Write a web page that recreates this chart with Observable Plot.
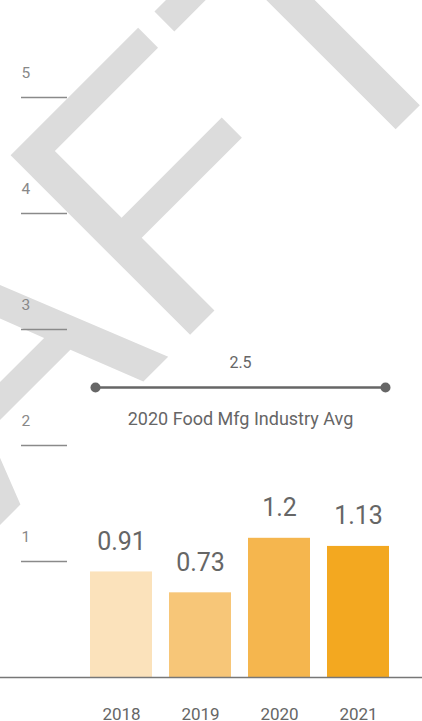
<!DOCTYPE html>
<html>
<head>
<meta charset="utf-8">
<script src="https://cdn.jsdelivr.net/npm/d3@7"></script>
<script src="https://cdn.jsdelivr.net/npm/@observablehq/plot@0.6"></script>
<style>
  html, body { margin: 0; padding: 0; background: #fff; overflow: hidden; }
  #chart svg { display: block; }
</style>
</head>
<body>
<div id="chart"></div>
<script>
const years = ["2018", "2019", "2020", "2021"];
const values = [0.91, 0.73, 1.2, 1.13];
const valueLabels = ["0.91", "0.73", "1.2", "1.13"];
const barColors = ["#FBE2BB", "#F7C678", "#F5B64E", "#F3A820"];
const yTicks = [1, 2, 3, 4, 5];
const industryAvg = [2.5];
const industryAvgLabel = ["2.5"];
const industryLabel = ["2020 Food Mfg Industry Avg"];
const watermark = ["DRAFT"];

const data = years.map((year, i) => ({year, value: values[i], label: valueLabels[i]}));

const chart = Plot.plot({
  width: 422,
  height: 721,
  marginTop: 97,
  marginBottom: 44,
  marginLeft: 89,
  marginRight: 31,
  style: {fontFamily: "Roboto, sans-serif", background: "#fff", overflow: "hidden"},
  x: {domain: years, paddingInner: 0.21, paddingOuter: 0, axis: null},
  y: {domain: [0, 5], axis: null},
  color: {domain: years, range: barColors},
  marks: [
    // watermark
    Plot.text(watermark, {
      text: d => d, frameAnchor: "top-left", dx: 398, dy: -60,
      rotate: -45, textAnchor: "end", lineAnchor: "bottom",
      fontSize: 369, fontFamily: "Liberation Sans", fill: "#dcdcdc"
    }),
    // y tick lines and labels
    Plot.ruleY(yTicks, {y: d => d, insetLeft: -68, insetRight: 324, stroke: "#8a8a8a", strokeWidth: 1.3}),
    Plot.text(yTicks, {
      y: d => d, text: d => String(d), frameAnchor: "left", dx: -68, dy: -20,
      textAnchor: "start", lineAnchor: "bottom", fontSize: 15.5, fill: "#888"
    }),
    // bars
    Plot.barY(data, {x: "year", y: "value", fill: "year"}),
    // value labels
    Plot.text(data, {
      x: "year", y: "value", text: "label", dy: -22, lineAnchor: "bottom",
      fontSize: 25, fill: "#666"
    }),
    // baseline
    Plot.ruleY([0], {insetLeft: -89, insetRight: -31, stroke: "#777", strokeWidth: 1.5}),
    // year labels
    Plot.text(data, {
      x: "year", text: "year", frameAnchor: "bottom", dy: 42, lineAnchor: "bottom",
      fontSize: 17, fill: "#666"
    }),
    // industry average line
    Plot.ruleY(industryAvg, {y: d => d, insetLeft: 6, insetRight: 6, stroke: "#666", strokeWidth: 2.5}),
    Plot.dot(industryAvg, {y: d => d, frameAnchor: "left", dx: 6, r: 5, fill: "#666", stroke: "none"}),
    Plot.dot(industryAvg, {y: d => d, frameAnchor: "right", dx: -6, r: 5, fill: "#666", stroke: "none"}),
    Plot.text(industryAvg, {
      y: d => d, text: (d, i) => industryAvgLabel[i], frameAnchor: "middle", dy: -20,
      lineAnchor: "bottom", fontSize: 16, fill: "#666"
    }),
    Plot.text(industryAvg, {
      y: d => d, text: (d, i) => industryLabel[i], frameAnchor: "middle", dy: 37,
      lineAnchor: "bottom", fontSize: 18, fill: "#666"
    })
  ]
});

document.getElementById("chart").appendChild(chart);
</script>
</body>
</html>
